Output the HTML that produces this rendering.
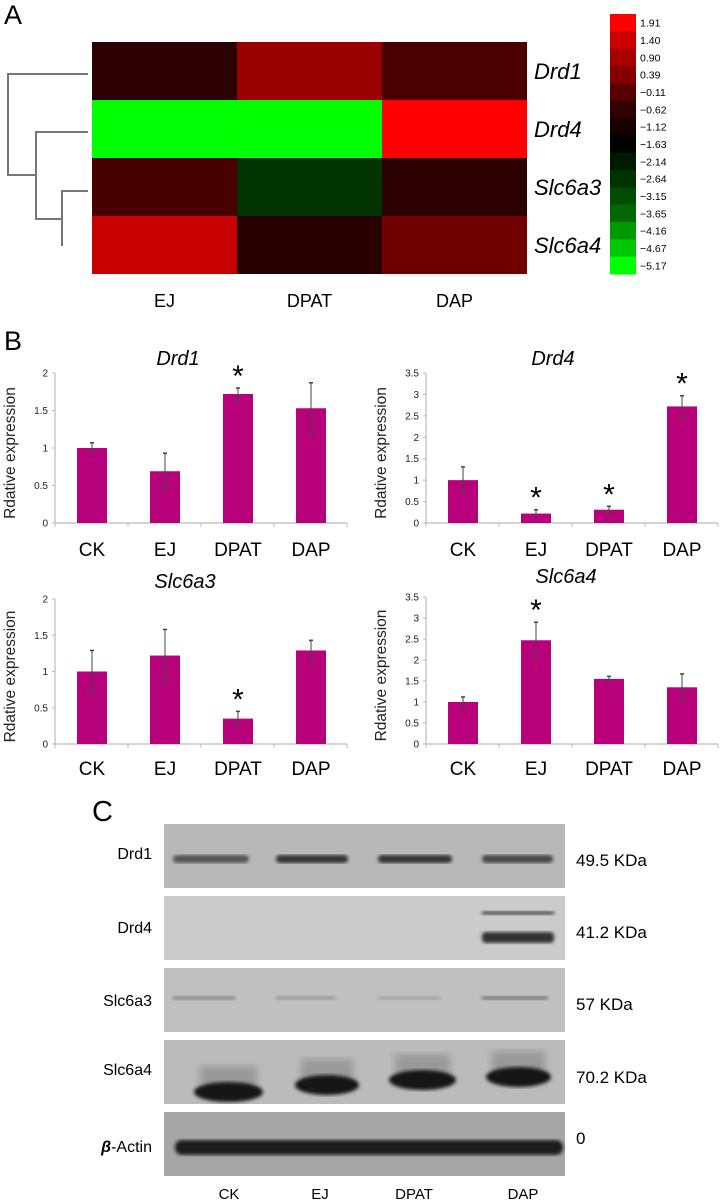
<!DOCTYPE html>
<html><head><meta charset="utf-8"><style>
body{margin:0;background:#fff}
svg{display:block;font-family:"Liberation Sans",sans-serif}
</style></head><body>
<svg id="fig" width="720" height="1201" viewBox="0 0 720 1201">
<defs>
<filter id="blur2"><feGaussianBlur stdDeviation="1.8"/></filter>
<filter id="blur4"><feGaussianBlur stdDeviation="4"/></filter>
</defs>
<text x="4" y="24" font-size="27">A</text>
<g id="heat"></g>
<g stroke="#777" stroke-width="2" fill="none">
<path d="M88 74H8V175H36M88 132H36V219H62M88 191H62V246"/>
</g>
<g id="legend"></g>
<text x="4" y="350" font-size="27">B</text>
<g id="charts"></g>
<text x="92" y="821" font-size="29">C</text>
<g id="blots"></g>
</svg>
<script>
const NS='http://www.w3.org/2000/svg';
function mk(tag,attrs,parent,txt){const e=document.createElementNS(NS,tag);for(const k in attrs)e.setAttribute(k,attrs[k]);if(txt!==undefined)e.textContent=txt;parent.appendChild(e);return e;}

// ---- heatmap data ----
const heatGenes=['Drd1','Drd4','Slc6a3','Slc6a4'];
const heatConds=['EJ','DPAT','DAP'];
const heatColors=[['#2a0000','#990000','#4a0000'],['#00ff00','#00ff00','#ff0000'],['#480000','#003300','#2a0000'],['#c80000','#280000','#700000']];
const legendLabels=['1.91','1.40','0.90','0.39','−0.11','−0.62','−1.12','−1.63','−2.14','−2.64','−3.15','−3.65','−4.16','−4.67','−5.17'];
const legendColors=['#ff0000','#cc0000','#a80000','#860000','#580000','#300000','#180000','#000000','#001a00','#003200','#004c00','#006800','#009a00','#00c800','#00ff00'];

const heat=document.getElementById('heat');
const hx=92,hy=42,cw=145,rh=58;
heatGenes.forEach((g,r)=>{
  heatConds.forEach((c,ci)=>{
    const cell=mk('rect',{x:hx+ci*cw,y:hy+r*rh,width:cw,height:rh,fill:heatColors[r][ci]},heat);
    
    
  });
  const t=mk('text',{x:534,y:hy+r*rh+rh/2+8,'font-size':22,'font-style':'italic'},heat,g);
  
  
});
heatConds.forEach((c,ci)=>{
  const t=mk('text',{x:hx+ci*cw+cw/2,y:307,'font-size':18,'text-anchor':'middle'},heat,c);
  
  
});
const leg=document.getElementById('legend');
const ly=14,lh=260/legendColors.length;
legendColors.forEach((c,i)=>{
  const r=mk('rect',{x:610,y:ly+i*lh,width:26,height:lh+0.5,fill:c},leg);
  
  
  const t=mk('text',{x:640,y:ly+i*lh+lh/2+4,'font-size':10.5},leg,legendLabels[i]);
  
  
});

// ---- bar chart data ----
const barCats=['CK','EJ','DPAT','DAP'];
const drd1Vals=[1.0,0.69,1.72,1.53];
const drd1Err=[0.07,0.24,0.08,0.34];
const drd1Star=[false,false,true,false];
const drd4Vals=[1.0,0.22,0.31,2.72];
const drd4Err=[0.31,0.09,0.08,0.25];
const drd4Star=[false,true,true,true];
const slc6a3Vals=[1.0,1.22,0.35,1.29];
const slc6a3Err=[0.29,0.36,0.1,0.14];
const slc6a3Star=[false,false,true,false];
const slc6a4Vals=[1.0,2.47,1.55,1.35];
const slc6a4Err=[0.12,0.43,0.06,0.32];
const slc6a4Star=[false,true,false,false];
const ticks2=['0','0.5','1','1.5','2'];
const ticks35=['0','0.5','1','1.5','2','2.5','3','3.5'];

const charts=[
 {name:'drd1',title:'Drd1',vals:drd1Vals,err:drd1Err,star:drd1Star,ticks:ticks2,ax:55,y0:523,ytop:373,titleX:178,titleY:365,labY:556},
 {name:'drd4',title:'Drd4',vals:drd4Vals,err:drd4Err,star:drd4Star,ticks:ticks35,ax:426,y0:523,ytop:373,titleX:553,titleY:365,labY:556},
 {name:'slc6a3',title:'Slc6a3',vals:slc6a3Vals,err:slc6a3Err,star:slc6a3Star,ticks:ticks2,ax:55,y0:744,ytop:599,titleX:185,titleY:588,labY:775},
 {name:'slc6a4',title:'Slc6a4',vals:slc6a4Vals,err:slc6a4Err,star:slc6a4Star,ticks:ticks35,ax:426,y0:744,ytop:597,titleX:566,titleY:583,labY:775}
];
const cg=document.getElementById('charts');
charts.forEach(ch=>{
  const g=mk('g',{},cg);
  
  
  const maxV=parseFloat(ch.ticks[ch.ticks.length-1]);
  const yS=v=>ch.y0-(v/maxV)*(ch.y0-ch.ytop);
  const step=73, xS=i=>ch.ax+37+i*step;
  const t=mk('text',{x:ch.titleX,y:ch.titleY,'font-size':20,'font-style':'italic','text-anchor':'middle'},g,ch.title);
  
  
  const yt=mk('text',{transform:`translate(${ch.ax-40},${(ch.y0+ch.ytop)/2+5}) rotate(-90)`,'font-size':15.5,'text-anchor':'middle',fill:'#222'},g,'Rdative expression');
  
  
  mk('line',{x1:ch.ax,y1:ch.ytop,x2:ch.ax,y2:ch.y0,stroke:'#bbb','stroke-width':1.2},g);
  mk('line',{x1:ch.ax,y1:ch.y0,x2:ch.ax+4*step,y2:ch.y0,stroke:'#bbb','stroke-width':1.2},g);
  ch.ticks.forEach(tk=>{
    const v=parseFloat(tk),y=yS(v);
    mk('line',{x1:ch.ax-3,y1:y,x2:ch.ax,y2:y,stroke:'#bbb'},g);
    const tl=mk('text',{x:ch.ax-7,y:y+3.5,'font-size':10,'text-anchor':'end',fill:'#222'},g,tk);
    
    
  });
  for(let i=0;i<=4;i++)mk('line',{x1:ch.ax+i*step,y1:ch.y0,x2:ch.ax+i*step,y2:ch.y0+4,stroke:'#bbb'},g);
  barCats.forEach((c,i)=>{
    const x=xS(i),v=ch.vals[i],e=ch.err[i];
    const b=mk('rect',{x:x-15,y:yS(v),width:30,height:ch.y0-yS(v),fill:'#b8007a'},g);
    
    
    mk('line',{x1:x,y1:yS(v+e),x2:x,y2:yS(v-e),stroke:'#444','stroke-width':1},g);
    mk('line',{x1:x-2,y1:yS(v+e),x2:x+2,y2:yS(v+e),stroke:'#444','stroke-width':1.5},g);
    mk('line',{x1:x-2,y1:yS(v-e),x2:x+2,y2:yS(v-e),stroke:'#444','stroke-width':1.5},g);
    if(ch.star[i]){
      const s=mk('text',{x:x,y:yS(v+e)-2,'font-size':30,'text-anchor':'middle'},g,'*');
      
      
    }
    const l=mk('text',{x:x,y:ch.labY,'font-size':19,'text-anchor':'middle'},g,c);
    
    
  });
});

// ---- western blots ----
const blotNames=['Drd1','Drd4','Slc6a3','Slc6a4','β-Actin'];
const blotSizes=['49.5 KDa','41.2 KDa','57 KDa','70.2 KDa','0'];
const blotTop=[824,896,968,1040,1112];
const blotBg=['#b8b8b8','#cbcbcb','#c0c0c0','#bbbbbb','#a6a6a6'];
const labelY=[859,933,1006,1075,1152];
const sizeY=[866,938,1010,1083,1144];
const bg=document.getElementById('blots');
blotNames.forEach((n,i)=>{
  const g=mk('g',{},bg);
  
  
  mk('rect',{x:164,y:blotTop[i],width:401,height:64,fill:blotBg[i]},g);
  const l=mk('text',{x:152,y:labelY[i],'font-size':16,'text-anchor':'end'},g,'');
  if(n==='β-Actin'){mk('tspan',{'font-style':'italic','font-weight':'bold'},l,'β');mk('tspan',{},l,'-Actin');}else l.textContent=n;
  
  
  const s=mk('text',{x:576,y:sizeY[i],'font-size':17},g,blotSizes[i]);
  
  
});
const bands=document.createElementNS(NS,'g');bg.appendChild(bands);


const f2='url(#blur2)',f4='url(#blur4)';
// Drd1
[[173,249,'#555'],[276,348,'#333'],[378,452,'#333'],[482,553,'#444']].forEach(b=>mk('rect',{x:b[0],y:855,width:b[1]-b[0],height:8,rx:4,fill:b[2],filter:f2},bands));
// Drd4
mk('rect',{x:482,y:911,width:72,height:4,fill:'#555',filter:f2},bands);
mk('rect',{x:482,y:932,width:72,height:11,rx:4,fill:'#333',filter:f2},bands);
// Slc6a3
[[173,235,'#888'],[276,335,'#999'],[378,440,'#a4a4a4'],[482,548,'#7a7a7a']].forEach(b=>mk('rect',{x:b[0],y:996,width:b[1]-b[0],height:4,fill:b[2],filter:f2},bands));
// Slc6a4
[[194,263,1092],[295,359,1085],[389,456,1080],[486,551,1077]].forEach(b=>{
  mk('rect',{x:b[0]+6,y:b[2]-26,width:b[1]-b[0]-12,height:22,fill:'#999',filter:f4},bands);
  mk('ellipse',{cx:(b[0]+b[1])/2,cy:b[2],rx:(b[1]-b[0])/2,ry:10,fill:'#151515',filter:f2},bands);
});
// Actin
mk('rect',{x:175,y:1140,width:388,height:15,rx:7,fill:'#1a1a1a',filter:f2},bands);
barCats.forEach((c,i)=>{
  const t=mk('text',{x:[229,320,414,523][i],y:1199,'font-size':15,'text-anchor':'middle'},bg,c);
  
  
});
</script>
</body></html>
